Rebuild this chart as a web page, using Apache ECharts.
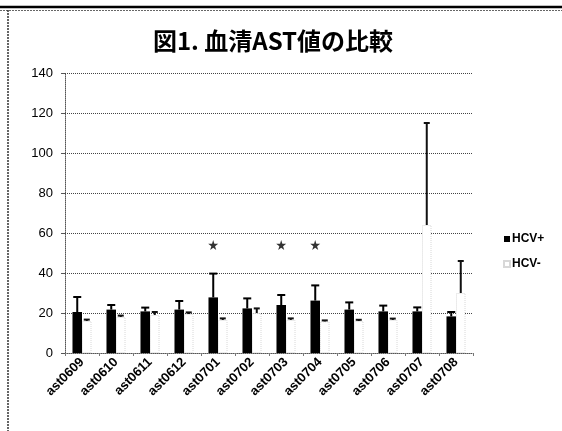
<!DOCTYPE html>
<html>
<head>
<meta charset="utf-8">
<script src="https://cdn.jsdelivr.net/npm/echarts@6/dist/echarts.min.js"></script>
<style>
  html, body { margin: 0; padding: 0; background: #fff; }
  #chart { width: 562px; height: 431px; }
</style>
</head>
<body>
<div id="chart"></div>
<script>
// Serum AST by sampling month, HCV+ vs HCV- groups (mean and SD)
const categories = ['ast0609', 'ast0610', 'ast0611', 'ast0612', 'ast0701', 'ast0702',
                    'ast0703', 'ast0704', 'ast0705', 'ast0706', 'ast0707', 'ast0708'];
const hcvPosMean = [20.5, 21.7, 20.8, 21.7, 27.8, 22.3, 24.0, 26.2, 21.7, 20.8, 20.8, 18.3];
const hcvPosSd   = [7.5, 2.3, 1.9, 4.3, 11.9, 5.0, 5.0, 7.6, 3.6, 2.9, 2.0, 2.2];
const hcvNegMean = [16.0, 18.0, 19.0, 19.5, 16.5, 20.0, 16.5, 15.8, 16.0, 16.5, 64.0, 30.0];
const hcvNegSd   = [0.7, 0.7, 1.5, 0.8, 0.8, 2.3, 0.8, 0.5, 0.6, 0.7, 51.0, 16.0];
// Months marked as significant
const starCategories = ['ast0701', 'ast0703', 'ast0704'];
const starLevel = 54;
const yTicks = [0, 20, 40, 60, 80, 100, 120, 140];

const CAT_GAP = 0.44;               // share of each band left empty
const STAR = 'path://M50,0 L61,35 L98,35 L68,57 L79,91 L50,70 L21,91 L32,57 L2,35 L39,35 Z';

function errorBars(side, color, lineW, capW) {
  return function (params, api) {
    const i = api.value(0), m = api.value(1), sd = api.value(2);
    const band = api.size([1, 0])[0];
    const bw = band * (1 - CAT_GAP) / 2;
    const base = api.coord([i, m]);
    const top = api.coord([i, m + sd]);
    const x = base[0] + side * bw / 2;
    const style = { stroke: color, lineWidth: lineW };
    return {
      type: 'group',
      children: [
        { type: 'line', shape: { x1: x, y1: base[1], x2: x, y2: top[1] }, style: style },
        { type: 'line', shape: { x1: x - capW / 2, y1: top[1], x2: x + capW / 2, y2: top[1] }, style: style }
      ]
    };
  };
}

const chart = echarts.init(document.getElementById('chart'));
chart.setOption({
  backgroundColor: '#fff',
  animation: false,
  title: {
    text: '図1. 血清AST値の比較',
    left: 268, top: 24, textAlign: 'center',
    textStyle: { fontFamily: 'Noto Sans CJK JP', fontWeight: 'bold', fontSize: 24, color: '#000' }
  },
  graphic: [
    { type: 'line', shape: { x1: 0, y1: 7, x2: 562, y2: 7 }, style: { stroke: '#000', lineWidth: 2.5 } },
    { type: 'line', shape: { x1: 0, y1: 10.5, x2: 562, y2: 10.5 }, style: { stroke: '#666', lineWidth: 1, lineDash: [2, 1] } },
    { type: 'line', shape: { x1: 8, y1: 10, x2: 8, y2: 431 }, style: { stroke: '#333', lineWidth: 1.5, lineDash: [2, 1] } }
  ],
  legend: {
    data: ['HCV+', 'HCV-'],
    orient: 'vertical',
    left: 498, top: 228,
    itemWidth: 6, itemHeight: 6, itemGap: 13,
    icon: 'rect',
    textStyle: { fontFamily: 'Liberation Sans', fontWeight: 'bold', fontSize: 12, color: '#000', padding: [0, 0, 0, -3] }
  },
  grid: { left: 65, right: 89, top: 73, bottom: 78 },
  xAxis: {
    type: 'category',
    data: categories,
    axisLine: { lineStyle: { color: '#555', type: 'dotted', width: 1 } },
    axisTick: { show: true, length: 3, lineStyle: { color: '#777' } },
    axisLabel: {
      rotate: 45, interval: 0, margin: 7,
      fontFamily: 'Liberation Sans', fontWeight: 'bold', fontSize: 13, color: '#000'
    }
  },
  yAxis: {
    type: 'value',
    min: 0, max: yTicks[yTicks.length - 1], interval: 20,
    axisLine: { show: true, lineStyle: { color: '#555', type: 'dotted' } },
    axisTick: { show: true, length: 4, lineStyle: { color: '#555' } },
    axisLabel: { margin: 12, fontFamily: 'Liberation Sans', fontSize: 13, color: '#000' },
    splitLine: { lineStyle: { color: '#444', type: 'dotted', width: 1 } }
  },
  series: [
    {
      name: 'HCV+', type: 'bar', data: hcvPosMean,
      barGap: '0%', barCategoryGap: (CAT_GAP * 100) + '%',
      itemStyle: { color: '#000' }
    },
    {
      name: 'HCV-', type: 'bar', data: hcvNegMean,
      itemStyle: { color: '#fff', borderColor: '#d8d8d8', borderWidth: 1, borderType: 'dotted' }
    },
    {
      type: 'custom', z: 5,
      data: hcvPosMean.map((m, i) => [i, m, hcvPosSd[i]]),
      renderItem: errorBars(-1, '#000', 2, 8)
    },
    {
      type: 'custom', z: 5,
      data: hcvNegMean.map((m, i) => [i, m, hcvNegSd[i]]),
      renderItem: errorBars(1, '#111', 2, 6)
    },
    {
      type: 'scatter', z: 6,
      data: starCategories.map(c => [c, starLevel]),
      symbol: STAR, symbolSize: 10, symbolOffset: [-4.8, 0],
      itemStyle: { color: '#000' }
    }
  ]
});
</script>
</body>
</html>
